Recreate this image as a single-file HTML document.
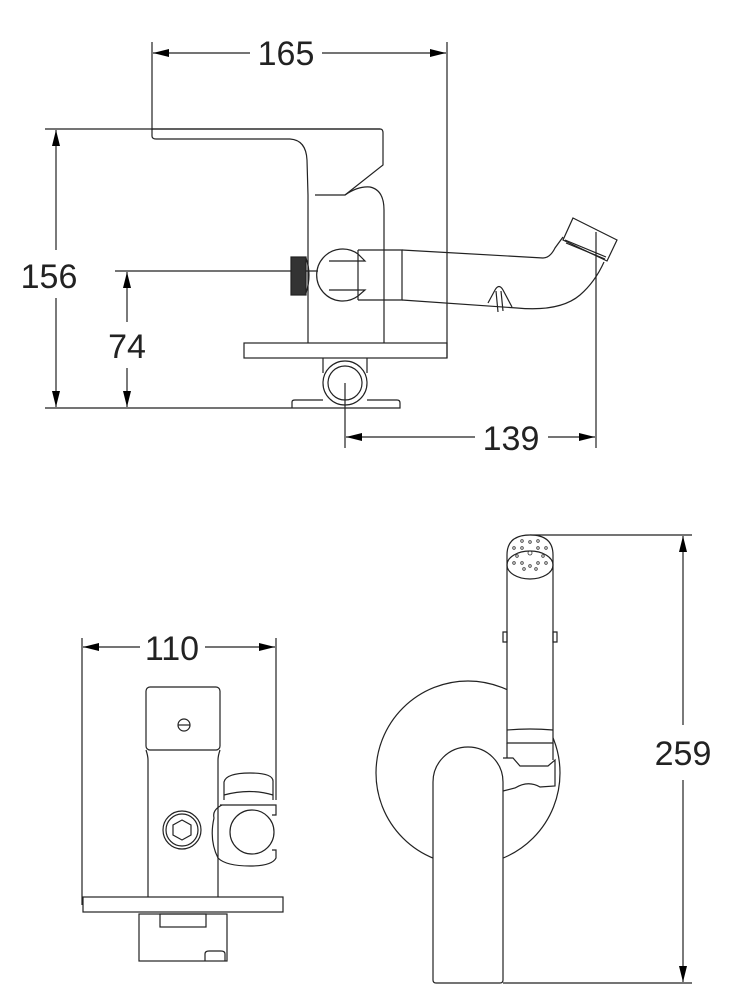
<!DOCTYPE html>
<html><head><meta charset="utf-8"><style>
html,body{margin:0;padding:0;background:#fff}
svg{display:block}
text{font-family:"Liberation Sans",sans-serif;font-size:34px;fill:#222}
</style></head><body>
<svg width="750" height="1000" viewBox="0 0 750 1000" xmlns="http://www.w3.org/2000/svg">
<defs>
<marker id="a" markerWidth="16" markerHeight="8" refX="16" refY="4" orient="auto-start-reverse" markerUnits="userSpaceOnUse">
<path d="M0,0 L16,4 L0,8 Z" fill="#000"/></marker>
</defs>
<g fill="none" stroke="#222" stroke-width="1.2">
<!-- 165 dimension -->
<line x1="152" y1="42" x2="152" y2="130"/>
<line x1="447" y1="42" x2="447" y2="358"/>
<line x1="153" y1="53" x2="250" y2="53" marker-start="url(#a)"/>
<line x1="322" y1="53" x2="446" y2="53" marker-end="url(#a)"/>
<!-- 156 -->
<line x1="45" y1="129" x2="380" y2="129"/>
<line x1="45" y1="408" x2="292" y2="408"/>
<line x1="56" y1="130" x2="56" y2="250" marker-start="url(#a)"/>
<line x1="56" y1="298" x2="56" y2="407" marker-end="url(#a)"/>
<!-- 74 -->
<line x1="115" y1="271" x2="318" y2="271"/>
<line x1="127" y1="272" x2="127" y2="322" marker-start="url(#a)"/>
<line x1="127" y1="368" x2="127" y2="407" marker-end="url(#a)"/>
<!-- 139 -->
<line x1="345" y1="383" x2="345" y2="448"/>
<line x1="596" y1="232" x2="596" y2="448"/>
<line x1="346" y1="437" x2="475" y2="437" marker-start="url(#a)"/>
<line x1="548" y1="437" x2="595" y2="437" marker-end="url(#a)"/>

<!-- side view spout top -->
<path d="M152,129 L380,129 Q383,129 383,133 L383,165 L345,195 L315,195"/>
<path d="M152,129 L152,136 Q152,139 156,139 L290,139 Q306,140 307,160 L308,195"/>
<path d="M308,195 L308,343"/>
<path d="M345,195 Q358,186 370,187 Q384,190 384,210 L384,343"/>
<rect x="244" y="343" width="203" height="15"/>
<path d="M323,358 L323,373 M367,358 L367,373"/>
<circle cx="345" cy="383" r="22"/>
<circle cx="345" cy="383" r="17"/>
<path d="M292,408 L292,402 Q292,400 295,400 L323,400 M367,400 L397,400 Q400,400 400,403 L400,408 L292,408"/>
<rect x="291" y="257" width="15" height="38" fill="#333"/>
<path d="M306,258 Q312,275 306,293"/>
<path d="M358,254 A26,26 0 1,0 358,296"/>
<path d="M329,261 L365,261 L358,254 M329,290 L365,290 L358,296"/>
<path d="M358,250 L358,300 M358,250 L402,250 L402,300 L358,300"/>
<path d="M402,250 L543,258 Q550,258 555,248 L563,237"/>
<path d="M402,300 L517,308 Q560,312 580,295 Q595,282 604,262"/>
<path d="M573,218 L617,240 L607,261 L563,240 Z"/>
<path d="M566,243 L605,259 M565,240 L606,257"/>
<path d="M488,303 L495,290 Q499,283 503,290 L512,307 M496,291 L498,312 M501,291 L503,311"/>

<!-- 110 -->
<line x1="82" y1="638" x2="82" y2="905"/>
<line x1="276" y1="638" x2="276" y2="800"/>
<line x1="83" y1="647" x2="140" y2="647" marker-start="url(#a)"/>
<line x1="205" y1="647" x2="275" y2="647" marker-end="url(#a)"/>
<rect x="146" y="687" width="74" height="63" rx="4"/>
<path d="M146,750 Q148,756 148,760 L148,897 M220,750 Q218,756 218,760 L218,897"/>
<circle cx="184" cy="725" r="6"/>
<line x1="178" y1="725" x2="190" y2="725"/>
<circle cx="182" cy="830" r="19"/>
<circle cx="182" cy="830" r="16"/>
<path d="M182,820 L191,825 L191,835 L182,840 L173,835 L173,825 Z"/>
<path d="M224,800 L224,782 Q226,773 250,773 Q274,773 273,782 L273,800"/>
<path d="M224,795 Q250,788 273,795"/>
<path d="M220,805 L276,805 L276,815 L272,815 M214,818 Q209,840 218,858 Q226,866 250,866 Q272,866 276,858 L276,850 L272,850"/>
<path d="M222,805 Q212,810 214,818"/>
<circle cx="252" cy="832" r="22"/>
<rect x="83" y="897" width="200" height="15"/>
<rect x="139" y="914" width="88" height="47"/>
<rect x="160" y="914" width="46" height="13"/>
<path d="M205,961 L205,954 Q205,951 209,951 L221,951 Q225,951 225,954 L225,961"/>

<!-- right view -->
<line x1="530" y1="535" x2="692" y2="535"/>
<line x1="503" y1="983" x2="692" y2="983"/>
<line x1="683" y1="536" x2="683" y2="725" marker-start="url(#a)"/>
<line x1="683" y1="780" x2="683" y2="982" marker-end="url(#a)"/>
<circle cx="468" cy="773" r="92"/>
<path d="M507,555 Q507,535 530,535 Q553,535 553,555 L553,743 L507,743 Z" fill="#fff"/>
<path d="M507,743 L507,760 M553,743 L553,760"/>
<ellipse cx="530" cy="565" rx="23" ry="14"/>
<path d="M503,632 h4 v10 h-4 z M553,632 h4 v10 h-4 z"/>
<path d="M507,730 Q530,728 553,730"/>
<path d="M503,758 L513,758 L520,766 L548,766 L555,760 L555,786 L540,787 Q528,780 515,788 L503,791" fill="#fff"/>
<path d="M433,980 L433,782 A35,35 0 0,1 503,782 L503,980 Q503,983 500,983 L436,983 Q433,983 433,980 Z" fill="#fff"/>
</g>
<g stroke="#333" stroke-width="0.8" fill="none">
<circle cx="530" cy="553" r="2"/><circle cx="522" cy="548" r="1.3"/><circle cx="538" cy="548" r="1.3"/>
<circle cx="517" cy="556" r="1.3"/><circle cx="543" cy="556" r="1.3"/><circle cx="522" cy="563" r="1.3"/>
<circle cx="538" cy="563" r="1.3"/><circle cx="530" cy="542" r="1.3"/><circle cx="530" cy="566" r="1.3"/>
<circle cx="514" cy="548" r="1.3"/><circle cx="546" cy="548" r="1.3"/><circle cx="514" cy="563" r="1.3"/><circle cx="546" cy="563" r="1.3"/>
<circle cx="522" cy="541" r="1.3"/><circle cx="538" cy="541" r="1.3"/><circle cx="524" cy="569" r="1.3"/><circle cx="536" cy="569" r="1.3"/>
</g>
<g>
<text x="286" y="65" text-anchor="middle">165</text>
<text x="49" y="288" text-anchor="middle">156</text>
<text x="127" y="358" text-anchor="middle">74</text>
<text x="511" y="450" text-anchor="middle">139</text>
<text x="172" y="660" text-anchor="middle">110</text>
<text x="683" y="765" text-anchor="middle">259</text>
</g>
</svg>
</body></html>
